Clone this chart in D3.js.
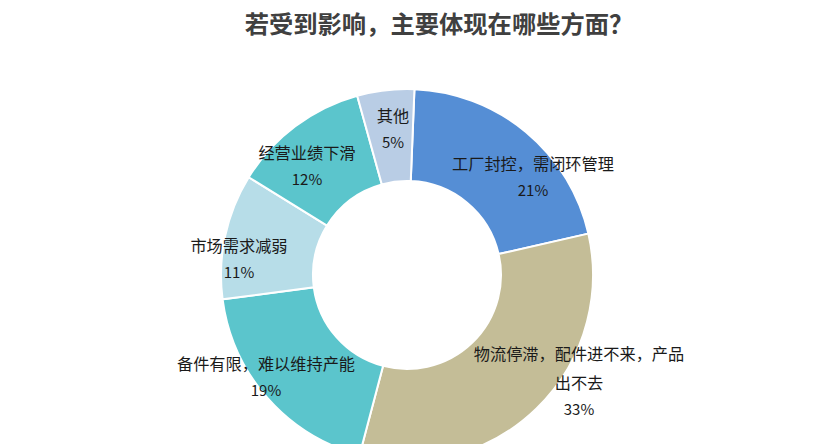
<!DOCTYPE html>
<html><head><meta charset="utf-8">
<script src="https://cdn.jsdelivr.net/npm/d3@7/dist/d3.min.js"></script>
<style>html,body{margin:0;padding:0;background:#fff;}svg{display:block;}</style>
</head><body>
<svg id="c" width="820" height="444"></svg>
<script>
const title = "若受到影响，主要体现在哪些方面？";
const categories = ["工厂封控，需闭环管理", "物流停滞，配件进不来，产品出不去", "备件有限，难以维持产能", "市场需求减弱", "经营业绩下滑", "其他"];
const labelLines = [["工厂封控，需闭环管理"], ["物流停滞，配件进不来，产品", "出不去"], ["备件有限，难以维持产能"], ["市场需求减弱"], ["经营业绩下滑"], ["其他"]];
const values = [21, 33, 19, 11, 12, 5];
const colors = ["#558ed5", "#c4bd97", "#5bc5cc", "#b7dde8", "#5bc5cc", "#b9cde5"];
// label anchor points (relative to chart centre), chosen to match layout
const labelPos = [[126, -112], [172, 78], [-141, 88], [-168, -30], [-100, -123], [-14, -160]];

const svg = d3.select("#c");
const cx = 407, cy = 275, rOuter = 186, rInner = 94;
const font = "'Noto Sans CJK SC','Microsoft YaHei',sans-serif";

svg.append("text").attr("x", 439).attr("y", 22).attr("text-anchor", "middle")
  .attr("dominant-baseline", "central").attr("font-family", font)
  .attr("font-size", 24.3).attr("font-weight", 700).attr("fill", "#404040").text(title);

const pie = d3.pie().value(d => d).sort(null).startAngle(0.04).endAngle(0.04 + 2 * Math.PI);
const arc = d3.arc().innerRadius(rInner).outerRadius(rOuter);
const g = svg.append("g").attr("transform", `translate(${cx},${cy})`);
const arcs = pie(values);
g.selectAll("path").data(arcs).join("path")
  .attr("d", arc).attr("fill", (d, i) => colors[i])
  .attr("stroke", "#fff").attr("stroke-width", 2);

const lg = g.selectAll("g.lbl").data(arcs).join("g").attr("class", "lbl")
  .attr("transform", (d, i) => `translate(${labelPos[i][0]},${labelPos[i][1]})`);
lg.each(function(d, i) {
  const sel = d3.select(this);
  const lines = labelLines[i];
  lines.forEach((t, k) => {
    sel.append("text").attr("x", 0).attr("y", k * 29).attr("text-anchor", "middle")
      .attr("dominant-baseline", "central").attr("font-family", font)
      .attr("font-size", 16.2).attr("fill", "#1a1a1a").text(t);
  });
  sel.append("text").attr("x", 0).attr("y", (lines.length - 1) * 29 + 26).attr("text-anchor", "middle")
    .attr("dominant-baseline", "central").attr("font-family", font)
    .attr("font-size", 15).attr("fill", "#1a1a1a").text(values[i] + "%");
});
</script>
</body></html>
